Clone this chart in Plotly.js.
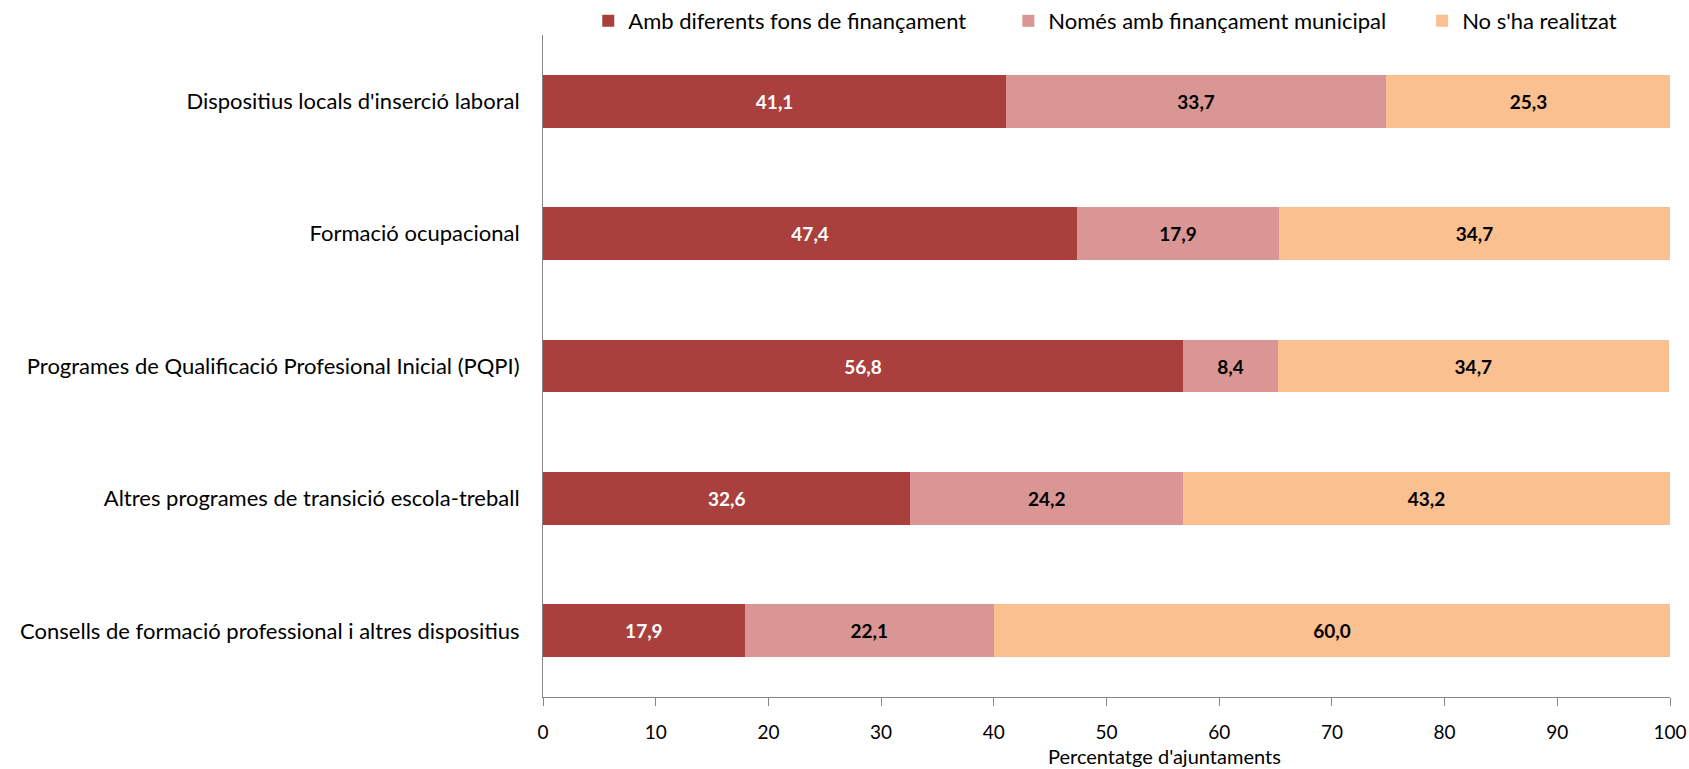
<!DOCTYPE html>
<html>
<head>
<meta charset="utf-8">
<script src="https://cdn.plot.ly/plotly-3.0.1.min.js"></script>
<style>html,body{margin:0;padding:0;background:#fff;}#chart{width:1689px;height:769px;}</style>
</head>
<body>
<div id="chart"></div>
<script>
const categories = [
  "Dispositius locals d'inserció laboral",
  "Formació ocupacional",
  "Programes de Qualificació Profesional Inicial (PQPI)",
  "Altres programes de transició escola-treball",
  "Consells de formació professional i altres dispositius"
];
const seriesNames = ["Amb diferents fons de finançament", "Només amb finançament municipal", "No s'ha realitzat"];
const ambDiferents = [41.1, 47.4, 56.8, 32.6, 17.9];
const nomesMunicipal = [33.7, 17.9, 8.4, 24.2, 22.1];
const noRealitzat = [25.3, 34.7, 34.7, 43.2, 60.0];
const xTicks = [0, 10, 20, 30, 40, 50, 60, 70, 80, 90, 100];
const xTitle = "Percentatge d'ajuntaments";

const colors = ["#A9403E", "#D99694", "#FAC090"];
const textColors = ["#ffffff", "#000000", "#000000"];
const values = [ambDiferents, nomesMunicipal, noRealitzat];
const legendIds = ['legend', 'legend2', 'legend3'];
const legendX = [0.3483, 0.597, 0.842];
const FONT = "Lato, 'Open Sans', sans-serif";

const traces = values.map((v, i) => ({
  type: 'bar',
  orientation: 'h',
  name: seriesNames[i],
  legend: legendIds[i],
  y: categories,
  x: v,
  width: 0.4,
  marker: {color: colors[i]},
  texttemplate: '<b>%{x:.1f}</b>',
  textposition: 'inside',
  insidetextanchor: 'middle',
  textfont: {color: textColors[i], size: 19, family: FONT},
  constraintext: 'none',
  hoverinfo: 'x+name'
}));

function legendCfg(x) {
  return {
    orientation: 'h',
    xref: 'container',
    yref: 'container',
    x: x, xanchor: 'left',
    y: 1, yanchor: 'top',
    font: {family: FONT, size: 22, color: '#000'},
    itemwidth: 30,
    bgcolor: 'rgba(0,0,0,0)'
  };
}

const layout = {
  width: 1689,
  height: 769,
  barmode: 'stack',
  separators: ',.',
  paper_bgcolor: '#fff',
  plot_bgcolor: '#fff',
  font: {family: FONT, size: 20, color: '#000'},
  margin: {l: 543, r: 19, t: 35, b: 72, autoexpand: false},
  showlegend: true,
  legend: legendCfg(legendX[0]),
  legend2: legendCfg(legendX[1]),
  legend3: legendCfg(legendX[2]),
  xaxis: {
    range: [0, 100],
    tickvals: xTicks,
    ticktext: xTicks.map(String),
    showgrid: false,
    zeroline: false,
    showline: true,
    linecolor: '#868686',
    linewidth: 1,
    ticks: 'outside',
    ticklen: 8,
    tickcolor: '#868686',
    ticklabelstandoff: 10,
    tickfont: {family: FONT, size: 19, color: '#000'},
    automargin: false,
    fixedrange: true
  },
  yaxis: {
    autorange: 'reversed',
    showgrid: false,
    zeroline: false,
    showline: true,
    linecolor: '#868686',
    linewidth: 1,
    ticks: '',
    ticklabelstandoff: 18,
    tickfont: {family: FONT, size: 22, color: '#000'},
    automargin: false,
    fixedrange: true
  },
  annotations: [{
    text: xTitle,
    xref: 'paper', yref: 'paper',
    x: 0.5515, y: -0.089,
    xanchor: 'center', yanchor: 'middle',
    showarrow: false,
    font: {family: FONT, size: 20, color: '#000'}
  }]
};

Plotly.newPlot('chart', traces, layout, {displayModeBar: false, staticPlot: true});
</script>
</body>
</html>
